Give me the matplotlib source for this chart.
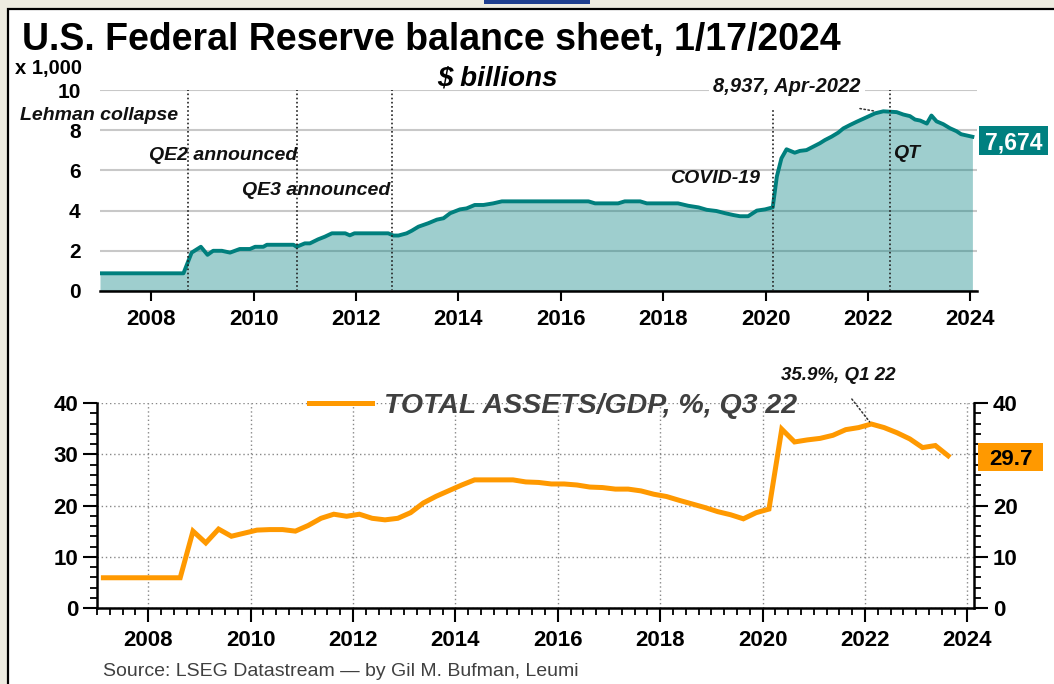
import matplotlib
matplotlib.use('Agg')
import matplotlib.pyplot as plt
import pandas as pd
from matplotlib.patches import Rectangle
from matplotlib.ticker import MultipleLocator

plt.rcParams['font.family'] = ['Liberation Sans', 'DejaVu Sans']

# Fed balance sheet, $ trillions (x 1,000 $bn)
bs_year = [2007.0, 2008.63, 2008.79, 2008.97, 2009.10, 2009.21, 2009.38, 2009.54, 2009.73, 2009.93,
           2010.03, 2010.19, 2010.26, 2010.78, 2010.84, 2011.0, 2011.1, 2011.26, 2011.39, 2011.53,
           2011.79, 2011.88, 2011.97, 2012.63, 2012.73, 2012.83, 2012.99, 2013.09, 2013.22, 2013.41,
           2013.58, 2013.71, 2013.84, 2014.03, 2014.16, 2014.32, 2014.49, 2014.68, 2014.85, 2016.54,
           2016.67, 2017.12, 2017.25, 2017.55, 2017.68, 2018.29, 2018.49, 2018.69, 2018.85, 2019.04,
           2019.21, 2019.37, 2019.50, 2019.66, 2019.83, 2019.99, 2020.14, 2020.22, 2020.31, 2020.41,
           2020.57, 2020.67, 2020.80, 2020.93, 2021.06, 2021.16, 2021.29, 2021.42, 2021.52, 2021.65,
           2021.78, 2021.97, 2022.14, 2022.30, 2022.56, 2022.69, 2022.82, 2022.92, 2023.02, 2023.15,
           2023.24, 2023.34, 2023.47, 2023.60, 2023.73, 2023.82, 2024.04]
bs_value = [0.88, 0.88, 1.91, 2.2, 1.8, 2.0, 2.0, 1.91, 2.09, 2.09,
            2.2, 2.2, 2.3, 2.3, 2.2, 2.37, 2.37, 2.57, 2.7, 2.87,
            2.87, 2.77, 2.87, 2.87, 2.76, 2.76, 2.87, 3.0, 3.2, 3.37,
            3.55, 3.62, 3.87, 4.06, 4.11, 4.28, 4.28, 4.36, 4.46, 4.46,
            4.36, 4.36, 4.46, 4.46, 4.36, 4.36, 4.24, 4.16, 4.04, 3.98,
            3.87, 3.78, 3.72, 3.72, 4.0, 4.06, 4.16, 5.69, 6.6, 7.05,
            6.88, 6.97, 7.01, 7.18, 7.35, 7.51, 7.68, 7.88, 8.09, 8.26,
            8.42, 8.64, 8.84, 8.94, 8.9, 8.78, 8.7, 8.53, 8.48, 8.33,
            8.73, 8.44, 8.3, 8.1, 7.95, 7.8, 7.674]

# Total assets / GDP, %, quarterly 2007Q1 - 2023Q3
gdp_quarters = pd.period_range('2007Q1', '2023Q3', freq='Q')
gdp_value = [5.9, 5.9, 5.9, 5.9,
             5.9, 5.9, 5.9, 15.0,
             12.7, 15.4, 14.0, 14.6,
             15.2, 15.3, 15.3, 15.0,
             16.1, 17.5, 18.3, 17.9,
             18.3, 17.5, 17.2, 17.5,
             18.6, 20.5, 21.8, 22.9,
             24.0, 25.0, 25.0, 25.0,
             25.0, 24.6, 24.5, 24.2,
             24.2, 24.0, 23.6, 23.5,
             23.2, 23.2, 22.85, 22.2,
             21.75, 21.0, 20.3, 19.6,
             18.8, 18.2, 17.4, 18.6,
             19.3, 34.9, 32.4, 32.8,
             33.1, 33.7, 34.8, 35.2,
             35.9, 35.2, 34.2, 33.0,
             31.3, 31.7, 29.7]
gdp_year = [q.year + (q.quarter - 1) / 4 + 0.125 for q in gdp_quarters]

events = ['Lehman collapse', 'QE2 announced', 'QE3 announced', 'COVID-19', 'QT']
event_year = [2008.71, 2010.84, 2012.70, 2020.14, 2022.43]

W, H = 1054, 684


def fx(x):
    return x / W


def fy(y):
    return 1 - y / H


def value_box(x0, y0, x1, y1, text, color, txtcolor, size):
    # filled label box at the right end of a panel, pixel coords from top-left
    fig.patches.append(Rectangle((fx(x0), fy(y1)), (x1 - x0) / W, (y1 - y0) / H,
                                 transform=fig.transFigure, facecolor=color,
                                 edgecolor='none', zorder=5))
    fig.text(fx((x0 + x1) / 2), fy((y0 + y1) / 2), text, ha='center', va='center_baseline',
             fontsize=size, fontweight='bold', color=txtcolor, zorder=6)


teal = '#008080'
orange = '#FF9900'

fig = plt.figure(figsize=(W / 100, H / 100), dpi=100, facecolor='#EEECE1')
fig.patches.append(Rectangle((fx(8), -0.1), 1.2, fy(9) + 0.1, transform=fig.transFigure,
                             facecolor='white', edgecolor='black', lw=1.6, zorder=-10))
fig.patches.append(Rectangle((fx(484), fy(4)), 106 / W, 4 / H, transform=fig.transFigure,
                             facecolor='#1F3F8F', edgecolor='none', zorder=-9))

# ---- top panel: balance sheet
ax1 = fig.add_axes([fx(100), fy(291), 877 / W, 201 / H])
ax1.set_facecolor('none')
ax1.fill_between(bs_year, bs_value, 0, color=teal, alpha=0.38, lw=0, zorder=2)
ax1.plot(bs_year, bs_value, color='#007F7D', lw=2.8, zorder=3)
ax1.set_xlim(2007, 2024.13)
ax1.set_ylim(0, 10)
ax1.set_yticks(range(0, 11, 2))
ax1.set_xticks(range(2008, 2025, 2))
ax1.grid(axis='y', color='#C8C8C8', lw=1.5, zorder=1)
ax1.set_axisbelow(True)
for s in ['left', 'right', 'top']:
    ax1.spines[s].set_visible(False)
ax1.spines['bottom'].set_linewidth(1.8)
ax1.tick_params(axis='y', length=0, pad=14, labelsize=15)
ax1.tick_params(axis='x', length=7, width=1.5, pad=6, labelsize=16)
for lab in ax1.get_xticklabels() + ax1.get_yticklabels():
    lab.set_fontweight('bold')

tops = [1.0, 1.0, 1.0, 0.91, 1.0]
for yr, top in zip(event_year, tops):
    ax1.axvline(yr, ymax=top, color='#222222', lw=1.2, ls=(0, (1, 1.5)), zorder=4)

label_pos = [(178, 115, 'right'), (297, 155, 'right'), (390, 191, 'right'),
             (760, 178, 'right'), (893, 153, 'left')]
for name, (x, y, ha) in zip(events, label_pos):
    fig.text(fx(x), fy(y), name, ha=ha, va='center', fontsize=14,
             fontweight='bold', style='italic', color='#111111')

peak_i = bs_value.index(max(bs_value))
fig.text(fx(787), fy(87), '8,937, Apr-2022', ha='center', va='center', fontsize=14.5,
         fontweight='bold', style='italic', color='#111111',
         bbox=dict(facecolor='white', edgecolor='none', pad=3))
ax1.annotate('', xy=(bs_year[peak_i] - 0.1, bs_value[peak_i] - 0.02), xytext=(2021.79, 9.1),
             arrowprops=dict(arrowstyle='-', ls=':', color='#333333', lw=1.1),
             annotation_clip=False)
value_box(979, 126, 1048, 155, f'{bs_value[-1] * 1000:,.0f}', teal, 'white', 16.5)

# ---- bottom panel: assets / GDP
ax2 = fig.add_axes([fx(97), fy(608), 877 / W, 205 / H])
ax2.set_facecolor('none')
ax2.plot(gdp_year, gdp_value, color=orange, lw=3.6, label='TOTAL ASSETS/GDP, %, Q3 22',
         solid_joinstyle='miter', zorder=3)
ax2.set_xlim(2007, 2024.13)
ax2.set_ylim(0, 40)
ax2.set_xticks(range(2008, 2025, 2))
ax2.xaxis.set_minor_locator(MultipleLocator(0.25))
ax2.set_yticks(range(0, 41, 10))
ax2.yaxis.set_minor_locator(MultipleLocator(2))
ax2.grid(which='major', color='#888888', lw=1, ls=(0, (1, 2)))
ax2.spines['top'].set_visible(False)
for s in ['left', 'right', 'bottom']:
    ax2.spines[s].set_linewidth(1.8)
ax2.yaxis.set_ticks_position('both')
ax2.tick_params(axis='y', which='both', labelleft=True, labelright=True, direction='out')
ax2.tick_params(which='major', length=10, width=1.5, labelsize=16)
ax2.tick_params(which='minor', length=5, width=1.3)
ax2.tick_params(axis='x', pad=6)
for lab in ax2.get_xticklabels():
    lab.set_fontweight('bold')
for t in ax2.yaxis.get_major_ticks():
    t.label1.set_fontweight('bold')
    t.label2.set_fontweight('bold')
# the latest-value box sits over the right-hand "30"
ax2.yaxis.get_major_ticks()[3].label2.set_visible(False)

leg = ax2.legend(loc='upper left', bbox_to_anchor=(fx(309), fy(393)), bbox_transform=fig.transFigure,
                 frameon=False, borderpad=0, borderaxespad=0, handlelength=2.2, handletextpad=0.45,
                 prop=dict(size=20.5, weight='bold', style='italic'))
for t in leg.get_texts():
    t.set_color('#404040')

g_peak = gdp_value.index(max(gdp_value))
fig.text(fx(838), fy(376), '35.9%, Q1 22', ha='center', va='center', fontsize=13.5,
         fontweight='bold', style='italic', color='#111111')
ax2.annotate('', xy=(gdp_year[g_peak], gdp_value[g_peak]), xytext=(2021.71, 41.2),
             arrowprops=dict(arrowstyle='-', ls=':', color='#333333', lw=1.1),
             annotation_clip=False)
value_box(978, 443, 1043, 471, f'{gdp_value[-1]:.1f}', orange, 'black', 16)

# ---- titles
fig.text(fx(22), fy(50), 'U.S. Federal Reserve balance sheet, 1/17/2024', ha='left', va='baseline',
         fontsize=27, fontweight='bold')
fig.text(fx(15), fy(74), 'x 1,000', ha='left', va='baseline', fontsize=14.5, fontweight='bold')
fig.text(fx(497), fy(86), '$ billions', ha='center', va='baseline', fontsize=20,
         fontweight='bold', style='italic')
fig.text(fx(103), fy(672), 'Source: LSEG Datastream \u2014 by Gil M. Bufman, Leumi', ha='left',
         va='center', fontsize=14, color='#404040')

fig.savefig('out.png', dpi=100, facecolor=fig.get_facecolor())
